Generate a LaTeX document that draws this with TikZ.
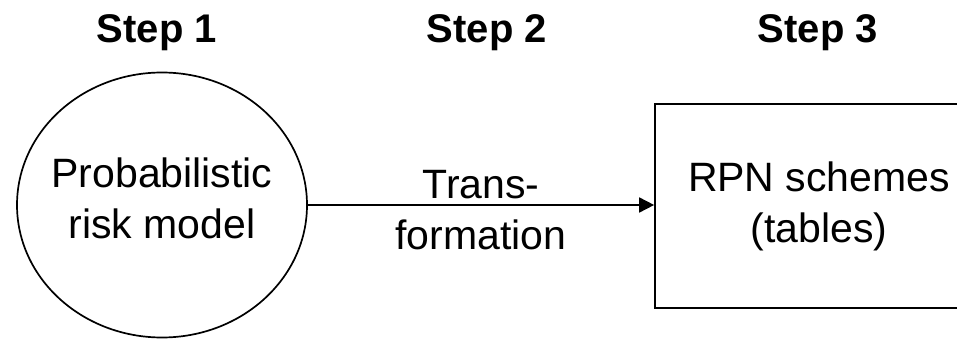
\documentclass[tikz,border=0pt]{standalone}
\usepackage{fontspec}
\setmainfont{Liberation Sans}
\usetikzlibrary{shapes.geometric,arrows.meta}
\begin{document}
\begin{tikzpicture}[x=1pt,y=-1pt,
  steplabel/.style={font=\fontsize{40}{48}\selectfont\bfseries, anchor=base, inner sep=0pt},
  bodytext/.style={font=\fontsize{41}{51}\selectfont, align=center, inner sep=0pt},
  outline/.style={draw=black, line width=1.7pt},
  flow/.style={line width=1.7pt, -{Triangle[length=15pt,width=15pt]}}]
% page area; the box runs past the right edge
\clip (0,0) rectangle (957,339);

% step headings
\node[steplabel] (s1) at (157,43) {Step 1};
\node[steplabel] (s2) at (487,43) {Step 2};
\node[steplabel] (s3) at (818,43) {Step 3};

% step 1: risk model
\node[outline, ellipse, minimum width=290pt, minimum height=265pt, inner sep=0pt] (model) at (162,205) {};
\node[bodytext] (modeltext) at (162,198) {Probabilistic\\risk model};

% step 3: RPN schemes
\node[outline, rectangle, minimum width=328pt, minimum height=204pt, inner sep=0pt, bodytext] (rpn) at (819,206) {RPN schemes\\(tables)};

% step 2: transformation
\coordinate (rpnin) at (model.east -| rpn.west);
\draw[flow] (model.east) -- node[bodytext, midway, yshift=-5pt] (trans) {Trans-\\formation} (rpnin);
\end{tikzpicture}
\end{document}
